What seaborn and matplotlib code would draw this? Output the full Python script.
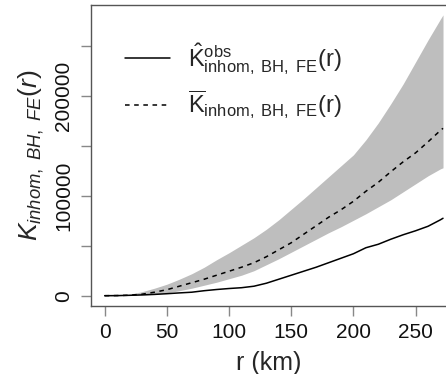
import numpy as np
import pandas as pd
import seaborn as sns
import matplotlib
matplotlib.use("Agg")
import matplotlib.pyplot as plt

# distances (km)
r = [0, 10, 20, 30, 40, 50, 60, 70, 80, 90, 100, 110, 120, 130, 140, 150,
     160, 170, 180, 190, 200, 210, 220, 230, 240, 250, 260, 270, 272]
# observed K
k_obs = [0, 100, 400, 800, 1300, 2000, 2800, 3500, 5000, 6200, 7200, 8000,
         9500, 12500, 16500, 20500, 24500, 28500, 33000, 37500, 42000, 48000,
         51500, 56500, 61000, 65000, 69500, 76000, 77500]
# mean of simulations
k_mean = [0, 150, 500, 1500, 3500, 6000, 9500, 13000, 16500, 20500, 24500,
          28500, 33000, 39000, 46000, 53000, 61500, 70000, 78500, 86000, 94500,
          104500, 113500, 124000, 134000, 143000, 154000, 165500, 167500]
# envelope
k_hi = [0, 300, 1500, 4000, 7500, 11500, 16500, 22000, 28500, 36000, 43000,
        50500, 58000, 66500, 76000, 86500, 97000, 108000, 119000, 130000,
        141000, 156000, 173000, 192000, 212000, 234000, 256000, 277000, 281000]
k_lo = [0, 50, 200, 600, 1500, 2800, 5000, 7500, 10500, 13500, 17000, 20500,
        25000, 31000, 37000, 43500, 50000, 56500, 63000, 69000, 75500, 82000,
        89000, 96000, 104000, 112000, 120000, 127000, 128000]

df = pd.DataFrame({"r": r, "obs": k_obs, "mean": k_mean, "hi": k_hi, "lo": k_lo})

sns.set_theme(style="white")
plt.rcParams["font.family"] = ["Liberation Sans", "DejaVu Sans"]
plt.rcParams["mathtext.fontset"] = "custom"
plt.rcParams["mathtext.rm"] = "Liberation Sans"
plt.rcParams["mathtext.it"] = "Liberation Sans:italic"
plt.rcParams["mathtext.bf"] = "Liberation Sans:bold"

fig = plt.figure(figsize=(4.46, 3.74), dpi=100)
ax = fig.add_axes([91 / 446, 1 - 306 / 374, 355 / 446, 301.5 / 374])

ax.fill_between(df["r"], df["lo"], df["hi"], color="#bebebe", linewidth=0)
sns.lineplot(data=df, x="r", y="obs", ax=ax, color="black", lw=1.1,
             label=r"$\hat{\mathrm{K}}^{\mathrm{obs}}_{\mathrm{inhom,\ BH,\ FE}}(\mathrm{r})$")
sns.lineplot(data=df, x="r", y="mean", ax=ax, color="black", lw=1.1,
             dashes=False, label=r"$\overline{\mathrm{K}}_{\mathrm{inhom,\ BH,\ FE}}(\mathrm{r})$")
ax.lines[-1].set_dashes((3, 3))

ax.set_xlim(-11, 274.4)
ax.set_ylim(-10300, 291400)
ax.set_xticks([0, 50, 100, 150, 200, 250])
ax.set_yticks([0, 50000, 100000, 150000, 200000, 250000])
ax.set_yticklabels(["0", "", "100000", "", "200000", ""], rotation=90, va="center")
ax.tick_params(axis="both", direction="out", length=7, width=1, color="#888888",
               labelsize=15, labelcolor="#111111", pad=6, left=True, bottom=True)
ax.tick_params(axis="x", pad=5)

for side in ["left", "bottom", "top"]:
    ax.spines[side].set_color("#555555")
    ax.spines[side].set_linewidth(1)
ax.spines["right"].set_visible(False)

ax.set_xlabel("r (km)", fontsize=18, labelpad=7)
ax.set_ylabel(r"$K_{inhom,\ BH,\ FE}(r)$", fontsize=19, labelpad=6)

ax.legend(loc="upper left", bbox_to_anchor=(0.035, 0.95), frameon=False,
          fontsize=17, handlelength=1.9, handletextpad=0.8, labelspacing=0.5)

fig.savefig("out.png", dpi=100)
